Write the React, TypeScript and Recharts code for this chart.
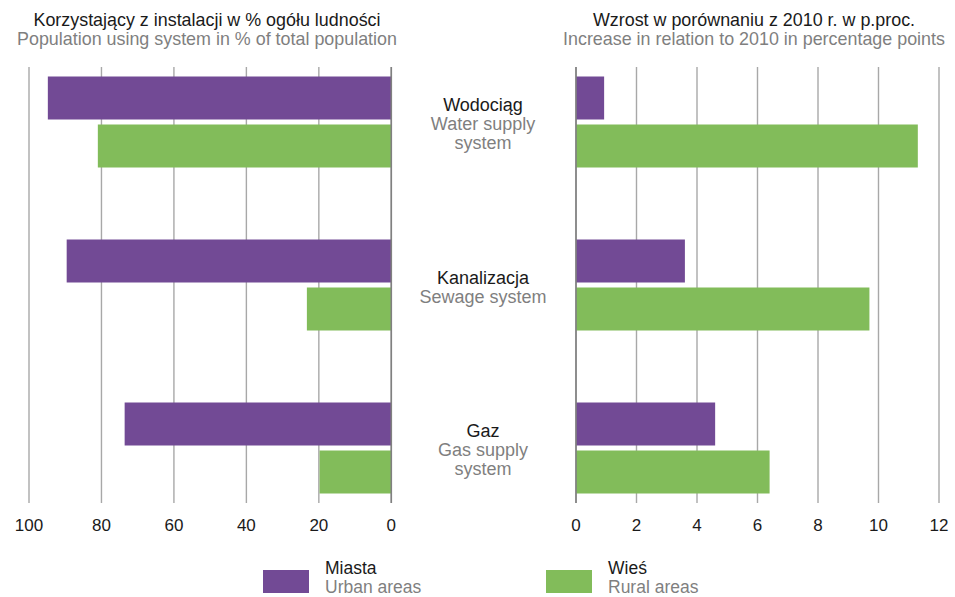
import React from 'react'
import {
  BarChart,
  Bar,
  XAxis,
  YAxis,
  CartesianGrid,
  ReferenceLine,
} from 'recharts'

const categoriesPl = ['Wodociąg', 'Kanalizacja', 'Gaz']
const categoriesEn = [['Water supply', 'system'], ['Sewage system'], ['Gas supply', 'system']]

// % of total population using the system
const urbanShare = [94.8, 89.6, 73.6]
const ruralShare = [81.0, 23.3, 19.8]

// increase in relation to 2010, percentage points
const urbanIncrease = [0.93, 3.6, 4.6]
const ruralIncrease = [11.3, 9.7, 6.4]

const shareTicks = [0, 20, 40, 60, 80, 100]
const increaseTicks = [0, 2, 4, 6, 8, 10, 12]

const PURPLE = '#724a95'
const GREEN = '#82bc5a'
const FONT = '"Liberation Sans", Arial, sans-serif'
const DARK = '#1a1a1a'
const GREY = '#7f7f7f'

const shareData = categoriesPl.map((name, i) => ({
  pos: i,
  name,
  urban: urbanShare[i],
  rural: ruralShare[i],
}))

const increaseData = categoriesPl.map((name, i) => ({
  pos: i,
  name,
  urban: urbanIncrease[i],
  rural: ruralIncrease[i],
}))

const Y_DOMAIN: [number, number] = [-0.337, 2.337]
const LINE_H = 19

// labels sit in the gap between the two charts (svg of right chart starts at page x=400)
function CategoryTick(props: any) {
  const { y, payload } = props
  const idx = payload.value as number
  const lines = [categoriesPl[idx], ...categoriesEn[idx]]
  const start = y - ((lines.length - 1) * LINE_H) / 2 + 2
  return (
    <g>
      {lines.map((line, i) => (
        <text
          key={i}
          x={83}
          y={start + i * LINE_H}
          textAnchor="middle"
          dominantBaseline="central"
          fontFamily={FONT}
          fontSize={18}
          fill={i === 0 ? DARK : GREY}
        >
          {line}
        </text>
      ))}
    </g>
  )
}

const tickStyle = { fill: DARK, fontSize: 17, fontFamily: FONT }

export default function App() {
  return (
    <div style={{ position: 'absolute', left: 0, top: 0, width: 955, height: 597, background: '#fff', fontFamily: FONT }}>
      {/* headers */}
      <div style={{ position: 'absolute', left: 0, width: 414, top: 11, textAlign: 'center', fontSize: 17.9, lineHeight: '19px' }}>
        <div style={{ color: DARK }}>Korzystający z instalacji w % ogółu ludności</div>
        <div style={{ color: GREY }}>Population using system in % of total population</div>
      </div>
      <div style={{ position: 'absolute', left: 554, width: 400, top: 11, textAlign: 'center', fontSize: 17.9, lineHeight: '19px' }}>
        <div style={{ color: DARK }}>Wzrost w porównaniu z 2010 r. w p.proc.</div>
        <div style={{ color: GREY }}>Increase in relation to 2010 in percentage points</div>
      </div>

      {/* left chart */}
      <div style={{ position: 'absolute', left: 0, top: 0 }}>
        <BarChart
          width={420}
          height={560}
          data={shareData}
          layout="vertical"
          margin={{ top: 67, right: 28.7, bottom: 27, left: 29 }}
          barGap={5}
        >
          <CartesianGrid horizontal={false} stroke="#a8a8a8" strokeWidth={1.4} />
          <XAxis
            type="number"
            domain={[0, 100]}
            ticks={shareTicks}
            reversed
            height={30}
            axisLine={false}
            tickLine={false}
            tickSize={0}
            tickMargin={16}
            tick={tickStyle}
            interval={0}
          />
          <YAxis type="number" dataKey="pos" domain={Y_DOMAIN} ticks={[0, 1, 2]} hide />
          <Bar dataKey="urban" fill={PURPLE} barSize={43} isAnimationActive={false} />
          <Bar dataKey="rural" fill={GREEN} barSize={43} isAnimationActive={false} />
          <ReferenceLine x={0} stroke="#808080" strokeWidth={1.6} />
        </BarChart>
      </div>

      {/* right chart */}
      <div style={{ position: 'absolute', left: 400, top: 0 }}>
        <BarChart
          width={555}
          height={560}
          data={increaseData}
          layout="vertical"
          margin={{ top: 67, right: 16, bottom: 27, left: 0 }}
          barGap={5}
        >
          <CartesianGrid horizontal={false} stroke="#a8a8a8" strokeWidth={1.4} />
          <XAxis
            type="number"
            domain={[0, 12]}
            ticks={increaseTicks}
            height={30}
            axisLine={false}
            tickLine={false}
            tickSize={0}
            tickMargin={16}
            tick={tickStyle}
            interval={0}
          />
          <YAxis
            type="number"
            dataKey="pos"
            domain={Y_DOMAIN}
            ticks={[0, 1, 2]}
            width={176}
            axisLine={false}
            tickLine={false}
            tick={<CategoryTick />}
            interval={0}
          />
          <Bar dataKey="urban" fill={PURPLE} barSize={43} isAnimationActive={false} />
          <Bar dataKey="rural" fill={GREEN} barSize={43} isAnimationActive={false} />
          <ReferenceLine x={0} stroke="#808080" strokeWidth={1.6} />
        </BarChart>
      </div>

      {/* legend */}
      <div style={{ position: 'absolute', left: 263, top: 570, width: 46, height: 23, background: PURPLE }} />
      <div style={{ position: 'absolute', left: 325, top: 559, fontSize: 17.5, lineHeight: '18.5px' }}>
        <div style={{ color: DARK }}>Miasta</div>
        <div style={{ color: GREY }}>Urban areas</div>
      </div>
      <div style={{ position: 'absolute', left: 546, top: 570, width: 46, height: 23, background: GREEN }} />
      <div style={{ position: 'absolute', left: 608, top: 559, fontSize: 17.5, lineHeight: '18.5px' }}>
        <div style={{ color: DARK }}>Wieś</div>
        <div style={{ color: GREY }}>Rural areas</div>
      </div>
    </div>
  )
}
